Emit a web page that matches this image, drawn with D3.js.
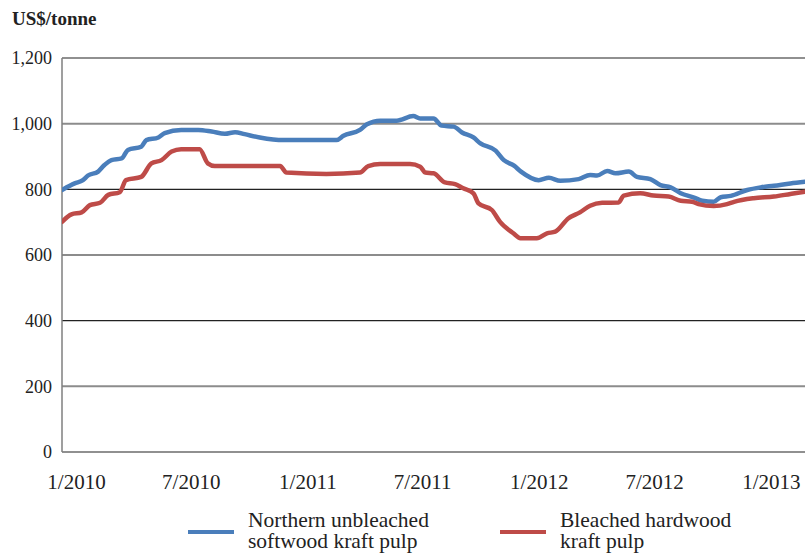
<!DOCTYPE html>
<html><head><meta charset="utf-8">
<script src="https://cdn.jsdelivr.net/npm/d3@7"></script>
<style>
body{margin:0;background:#fff;}
svg{display:block;font-family:"Liberation Serif","Times New Roman",serif;}
</style></head>
<body>
<svg id="c" width="805" height="555"></svg>
<script>
// ---- data ----
const yTicks = [0, 200, 400, 600, 800, 1000, 1200];
const xTickLabels = ["2010-01-01","2010-07-01","2011-01-01","2011-07-01","2012-01-01","2012-07-01","2013-01-01"];
const seriesNames = ["Northern unbleached\nsoftwood kraft pulp", "Bleached hardwood\nkraft pulp"];

const nbskDates = ["2010-01-01","2010-01-21","2010-02-03","2010-02-11","2010-02-27","2010-03-09","2010-03-20","2010-04-05","2010-04-15","2010-05-06","2010-05-14","2010-06-02","2010-06-12","2010-07-08","2010-08-04","2010-08-25","2010-09-15","2010-10-01","2010-10-16","2010-11-09","2010-12-16","2011-03-10","2011-03-21","2011-04-16","2011-04-27","2011-05-18","2011-06-13","2011-07-09","2011-07-20","2011-08-10","2011-08-23","2011-09-11","2011-09-24","2011-10-12","2011-10-23","2011-11-16","2011-11-29","2011-12-15","2011-12-26","2012-01-23","2012-02-08","2012-02-26","2012-03-26","2012-04-13","2012-04-24","2012-05-10","2012-05-23","2012-06-13","2012-06-26","2012-07-17","2012-08-02","2012-08-18","2012-09-03","2012-09-24","2012-10-07","2012-10-25","2012-11-05","2012-11-21","2012-12-17","2013-01-07","2013-01-28","2013-02-23","2013-03-18"];
const nbskValues = [798,818,828,842,854,874,889,894,920,930,950,958,971,981,981,976,969,974,968,958,950,950,963,981,998,1009,1009,1023,1016,1016,994,991,973,958,940,918,889,872,854,828,835,826,831,844,842,856,849,854,838,831,813,806,788,775,765,762,776,780,798,806,811,818,823];

const bhkpDates = ["2010-01-01","2010-01-16","2010-02-01","2010-02-14","2010-03-02","2010-03-15","2010-04-02","2010-04-12","2010-05-06","2010-05-22","2010-06-07","2010-06-23","2010-07-08","2010-08-06","2010-08-19","2010-08-30","2010-12-11","2010-12-21","2011-02-22","2011-04-16","2011-04-29","2011-05-18","2011-07-04","2011-07-20","2011-07-28","2011-08-10","2011-08-28","2011-09-13","2011-09-26","2011-10-12","2011-10-20","2011-11-10","2011-11-23","2011-12-14","2011-12-25","2012-01-20","2012-02-05","2012-02-18","2012-03-10","2012-03-28","2012-04-13","2012-05-02","2012-05-28","2012-06-05","2012-07-01","2012-07-22","2012-08-15","2012-09-03","2012-09-21","2012-10-01","2012-10-25","2012-11-15","2012-11-26","2012-12-27","2013-01-28","2013-02-23","2013-03-18"];
const bhkpValues = [701,724,730,752,759,783,791,828,838,879,889,915,922,922,879,871,871,851,847,851,871,877,877,869,851,849,821,816,803,788,757,737,701,666,651,651,666,671,712,730,750,759,760,781,788,781,778,765,762,755,749,755,762,773,778,786,793];

const colors = ["#4a7ebb", "#be4b48"];

// ---- chart ----
const parse = d3.timeParse("%Y-%m-%d");
const svg = d3.select("#c");
const pL = 62, pR = 805, pT = 58, pB = 452;

const x = d3.scaleTime().domain([parse("2010-01-01"), parse("2013-03-18")]).range([pL, pR]);
const y = d3.scaleLinear().domain([0, 1200]).range([pB, pT]);

// gridlines
svg.append("g").selectAll("line").data(yTicks).join("line")
  .attr("x1", pL).attr("x2", pR)
  .attr("y1", d => y(d)).attr("y2", d => y(d))
  .attr("stroke", d => (d / 200) % 2 === 0 ? "#222" : "#8c8c8c")
  .attr("stroke-width", d => (d / 200) % 2 === 0 ? 1.2 : 2);

// left axis line
svg.append("line").attr("x1", pL).attr("x2", pL).attr("y1", y(1200)).attr("y2", y(0))
  .attr("stroke", "#7f7f7f").attr("stroke-width", 1.5);

// y axis labels
const yAxis = svg.append("g").attr("transform", `translate(${pL},0)`)
  .call(d3.axisLeft(y).tickValues(yTicks).tickFormat(d3.format(",")).tickSize(0).tickPadding(10));
yAxis.select(".domain").remove();
yAxis.selectAll("text").attr("font-family", "Liberation Serif").attr("font-size", 18).attr("fill", "#222");

// x axis labels
const xAxis = svg.append("g").attr("transform", `translate(0,${pB})`)
  .call(d3.axisBottom(x).tickValues(xTickLabels.map(parse)).tickFormat(d3.timeFormat("%-m/%Y")).tickSize(0).tickPadding(22));
xAxis.select(".domain").remove();
xAxis.selectAll("text").attr("font-family", "Liberation Serif").attr("font-size", 21).attr("fill", "#222").attr("dx", 14);

// title
svg.append("text").attr("x", 12).attr("y", 25).attr("font-size", 19).attr("font-weight", "bold")
  .attr("fill", "#222").text("US$/tonne");

// lines
const line = d3.line().x(d => x(d[0])).y(d => y(d[1])).curve(d3.curveMonotoneX);
const series = [
  nbskDates.map((d, i) => [parse(d), nbskValues[i]]),
  bhkpDates.map((d, i) => [parse(d), bhkpValues[i]])
];
svg.append("defs").append("clipPath").attr("id", "clip").append("rect")
  .attr("x", pL).attr("y", 0).attr("width", pR - pL + 2).attr("height", 555);
svg.append("g").attr("clip-path", "url(#clip)").selectAll("path").data(series).join("path")
  .attr("d", line).attr("fill", "none")
  .attr("stroke", (d, i) => colors[i]).attr("stroke-width", 4.5)
  .attr("stroke-linejoin", "round").attr("stroke-linecap", "round");

// legend
const legendX = [188, 500];
const lg = svg.append("g");
seriesNames.forEach((name, i) => {
  lg.append("line").attr("x1", legendX[i]).attr("x2", legendX[i] + 46)
    .attr("y1", 532).attr("y2", 532).attr("stroke", colors[i]).attr("stroke-width", 4);
  const t = lg.append("text").attr("x", legendX[i] + 60).attr("y", 527)
    .attr("font-size", 21.5).attr("fill", "#222");
  name.split("\n").forEach((s, j) => {
    t.append("tspan").attr("x", legendX[i] + 60).attr("dy", j === 0 ? 0 : 21).text(s);
  });
});
</script>
</body></html>
